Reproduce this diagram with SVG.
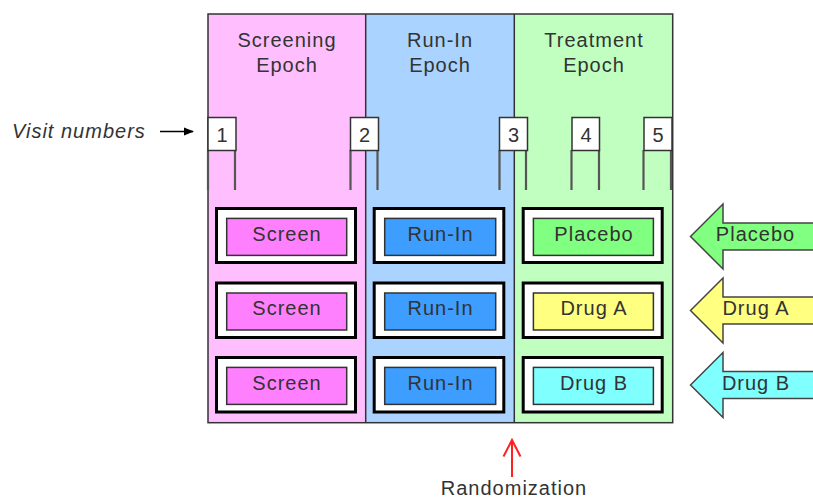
<svg xmlns="http://www.w3.org/2000/svg" width="813" height="498" viewBox="0 0 813 498">
<style>
text{font-family:"Liberation Sans",Arial,sans-serif;font-size:20px;fill:#333;letter-spacing:1px}
.c{text-anchor:middle}
.outer{fill:#fff;stroke:#000;stroke-width:3}
.inner{stroke:#333;stroke-width:1.5}
.vbox{fill:#fff;stroke:#333;stroke-width:1.5}
.leg{stroke:#555;stroke-width:2.2;fill:none}
.arr{stroke:#444;stroke-width:1.5}
</style>
<defs>
<marker id="ah" viewBox="0 0 10 10" refX="9" refY="5" markerWidth="10" markerHeight="10" markerUnits="userSpaceOnUse" orient="auto">
<path d="M0,1 L10,5 L0,9 Z" fill="#000"/>
</marker>
</defs>

<g id="epochs">
<rect x="208" y="14" width="157.7" height="408.7" fill="#ffbfff"/>
<rect x="365.7" y="14" width="148.6" height="408.7" fill="#aad4ff"/>
<rect x="514.3" y="14" width="158.4" height="408.7" fill="#c0ffc0"/>
<rect x="208" y="14" width="464.7" height="408.7" fill="none" stroke="#333" stroke-width="1.5"/>
<line x1="365.7" y1="14" x2="365.7" y2="422.7" stroke="#333" stroke-width="1.5"/>
<line x1="514.3" y1="14" x2="514.3" y2="422.7" stroke="#333" stroke-width="1.5"/>
</g>
<g id="title-screening"><text class="c" x="287" y="46.5">Screening</text><text class="c" x="287" y="71.5">Epoch</text></g>
<g id="title-runin"><text class="c" x="440" y="46.5">Run-In</text><text class="c" x="440" y="71.5">Epoch</text></g>
<g id="title-treatment"><text class="c" x="594" y="46.5">Treatment</text><text class="c" x="594" y="71.5">Epoch</text></g>

<g id="visit-label"><text x="12" y="138" font-style="italic" fill="#444">Visit numbers</text></g>

<g id="visit1"><path class="leg" d="M208,150 V190 M235,150 V190"/><rect class="vbox" x="208" y="117.5" width="28" height="33"/><text class="c" x="222.5" y="141.5">1</text></g>
<g id="visit2"><path class="leg" d="M350.5,150 V190 M377.5,150 V190"/><rect class="vbox" x="350.5" y="117.5" width="28" height="33"/><text class="c" x="365" y="141.5">2</text></g>
<g id="visit3"><path class="leg" d="M499.5,150 V190 M526,150 V190"/><rect class="vbox" x="499.5" y="117.5" width="28" height="33"/><text class="c" x="514" y="141.5">3</text></g>
<g id="visit4"><path class="leg" d="M571.5,150 V190 M599,150 V190"/><rect class="vbox" x="572" y="117.5" width="27.5" height="33"/><text class="c" x="586.5" y="141.5">4</text></g>
<g id="visit5"><path class="leg" d="M643.5,150 V190 M671,150 V190"/><rect class="vbox" x="644" y="117.5" width="28" height="33"/><text class="c" x="658.5" y="141.5">5</text></g>

<g id="screen1"><rect class="outer" x="216.5" y="208.5" width="139" height="54"/><rect class="inner" x="226.7" y="218.4" width="120" height="37" fill="#ff80ff"/><text class="c" x="287" y="240.5">Screen</text></g>
<g id="screen2"><rect class="outer" x="216.5" y="283" width="139" height="54.5"/><rect class="inner" x="226.7" y="293" width="120" height="37" fill="#ff80ff"/><text class="c" x="287" y="315">Screen</text></g>
<g id="screen3"><rect class="outer" x="216.5" y="357.5" width="139" height="54.5"/><rect class="inner" x="226.7" y="367.4" width="120" height="37" fill="#ff80ff"/><text class="c" x="287" y="389.5">Screen</text></g>

<g id="runin1"><rect class="outer" x="374.2" y="208.5" width="129.6" height="54"/><rect class="inner" x="384.7" y="218.4" width="111" height="37" fill="#3d9eff"/><text class="c" x="440.5" y="240.5">Run-In</text></g>
<g id="runin2"><rect class="outer" x="374.2" y="283" width="129.6" height="54.5"/><rect class="inner" x="384.7" y="293" width="111" height="37" fill="#3d9eff"/><text class="c" x="440.5" y="315">Run-In</text></g>
<g id="runin3"><rect class="outer" x="374.2" y="357.5" width="129.6" height="54.5"/><rect class="inner" x="384.7" y="367.4" width="111" height="37" fill="#3d9eff"/><text class="c" x="440.5" y="389.5">Run-In</text></g>

<g id="placebo"><rect class="outer" x="523.2" y="208.5" width="139" height="54"/><rect class="inner" x="533.4" y="218.4" width="120" height="37" fill="#80ff80"/><text class="c" x="594" y="240.5">Placebo</text></g>
<g id="drugA"><rect class="outer" x="523.2" y="283" width="139" height="54.5"/><rect class="inner" x="533.4" y="293" width="120" height="37" fill="#ffff80"/><text class="c" x="594" y="315">Drug A</text></g>
<g id="drugB"><rect class="outer" x="523.2" y="357.5" width="139" height="54.5"/><rect class="inner" x="533.4" y="367.4" width="120" height="37" fill="#80ffff"/><text class="c" x="594" y="389.5">Drug B</text></g>

<g id="arrow-placebo"><path class="arr" fill="#80ff80" d="M690.5,236.5 L723,204 V223 H820 V250 H723 V269 Z"/><text class="c" x="755.5" y="241">Placebo</text></g>
<g id="arrow-drugA"><path class="arr" fill="#ffff80" d="M690.5,310.5 L723,278 V297 H820 V324 H723 V343 Z"/><text class="c" x="756" y="315">Drug A</text></g>
<g id="arrow-drugB"><path class="arr" fill="#80ffff" d="M690.5,385 L723,352.5 V371.5 H820 V398.5 H723 V417.5 Z"/><text class="c" x="756" y="389.5">Drug B</text></g>

<g id="randomization-label"><text class="c" x="514" y="495">Randomization</text></g>

<g id="connectors">
<line x1="160" y1="131.5" x2="193" y2="131.5" stroke="#000" stroke-width="1.5" marker-end="url(#ah)"/>
<line x1="512" y1="477" x2="512" y2="441" stroke="#ff2020" stroke-width="2"/>
<polyline points="503.5,456.5 512,440 520.5,456.5" fill="none" stroke="#ff2020" stroke-width="2"/>
</g>
</svg>
